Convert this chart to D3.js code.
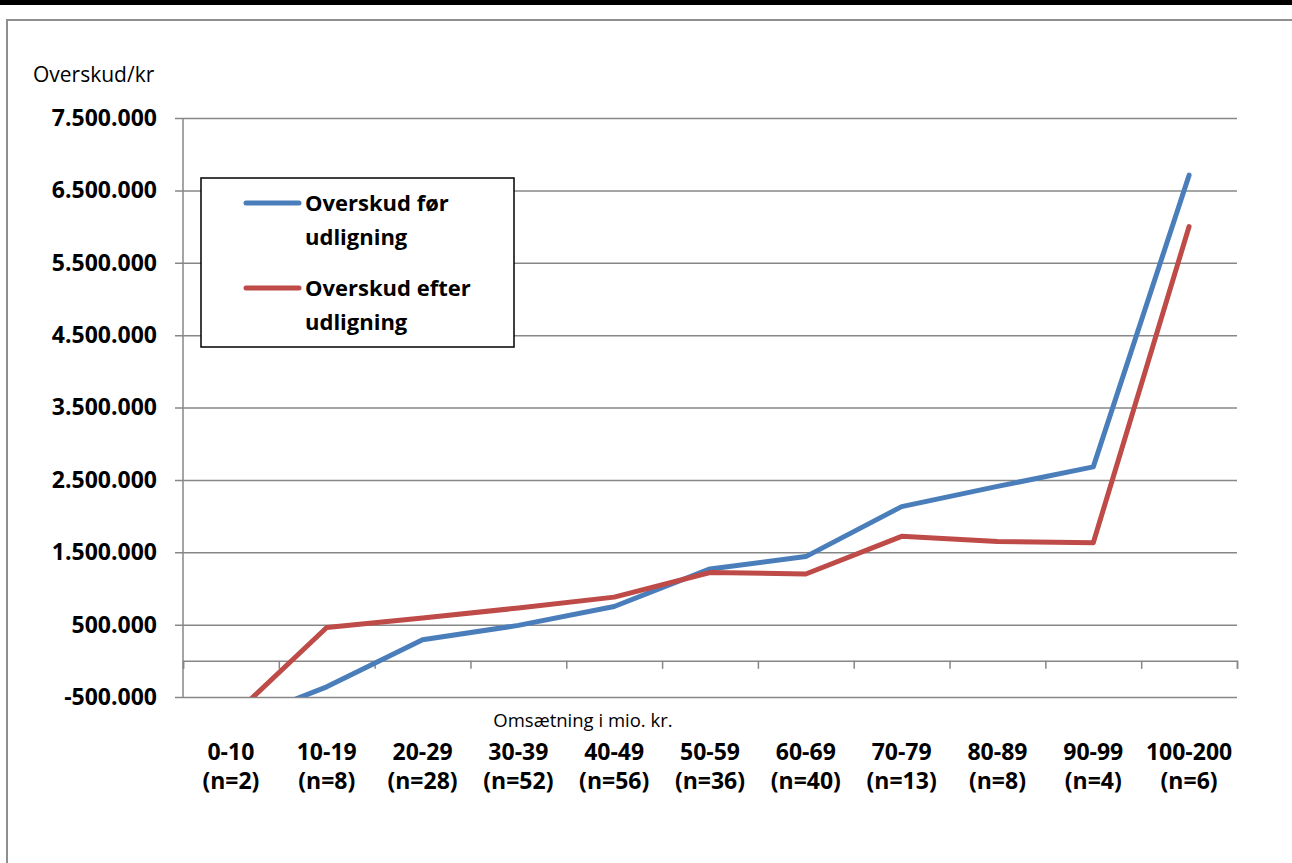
<!DOCTYPE html>
<html>
<head>
<meta charset="utf-8">
<script src="https://cdn.jsdelivr.net/npm/d3@7"></script>
<style>
  body { margin: 0; background: #fff; }
  svg { display: block; font-family: "Open Sans", "Liberation Sans", sans-serif; }
</style>
</head>
<body>
<svg id="chart"></svg>
<script>
// data
const categories = ["0-10", "10-19", "20-29", "30-39", "40-49", "50-59", "60-69", "70-79", "80-89", "90-99", "100-200"];
const counts = ["(n=2)", "(n=8)", "(n=28)", "(n=52)", "(n=56)", "(n=36)", "(n=40)", "(n=13)", "(n=8)", "(n=4)", "(n=6)"];
const foerUdligning = [-880000, -360000, 290000, 490000, 750000, 1270000, 1440000, 2130000, 2410000, 2680000, 6710000];
const efterUdligning = [-790000, 460000, 590000, 730000, 880000, 1220000, 1200000, 1720000, 1650000, 1630000, 6000000];
const yTicks = [-500000, 500000, 1500000, 2500000, 3500000, 4500000, 5500000, 6500000, 7500000];

const series = [
    { name: ["Overskud før", "udligning"], values: foerUdligning, color: "#4A7EBB" },
    { name: ["Overskud efter", "udligning"], values: efterUdligning, color: "#BE4B48" }
];

const width = 1292, height = 863;
const plot = { left: 183, right: 1237, top: 118, bottom: 697 };
const gridColor = "#878787";

const svg = d3.select("#chart").attr("width", width).attr("height", height);

// page decoration: black strip on top, grey frame round the chart
svg.append("rect").attr("x", 0).attr("y", 0).attr("width", width).attr("height", 5).attr("fill", "#000");
svg.append("rect")
    .attr("x", 7).attr("y", 20).attr("width", width + 20).attr("height", height)
    .attr("fill", "none").attr("stroke", "#8f8f8f").attr("stroke-width", 2);

const x = d3.scaleBand().domain(categories).range([plot.left, plot.right]);
const y = d3.scaleLinear().domain([-500000, 7500000]).range([plot.bottom, plot.top]);

const locale = d3.formatLocale({ decimal: ",", thousands: ".", grouping: [3], currency: ["", " kr"], minus: "-" });
const fmt = locale.format(",d");

// y axis: gridlines + labels
const yAxis = svg.append("g")
    .attr("transform", `translate(${plot.right},0)`)
    .call(d3.axisLeft(y).tickValues(yTicks).tickSize(plot.right - plot.left + 8).tickPadding(18).tickFormat(fmt));
yAxis.select(".domain").remove();
yAxis.selectAll(".tick line").attr("stroke", gridColor).attr("stroke-width", 1.5);
yAxis.selectAll(".tick text")
    .attr("fill", "#000").attr("font-size", 23).attr("font-weight", "bold")
    .attr("font-family", "'Open Sans', sans-serif");

// left axis line
svg.append("line")
    .attr("x1", plot.left).attr("x2", plot.left)
    .attr("y1", plot.top).attr("y2", plot.bottom)
    .attr("stroke", gridColor).attr("stroke-width", 1.5);

// x axis at zero with ticks between categories
const xEdges = d3.scaleLinear().domain([0, categories.length]).range([plot.left, plot.right]);
const xAxis = svg.append("g")
    .attr("transform", `translate(0,${y(0)})`)
    .call(d3.axisBottom(xEdges).tickValues(d3.range(categories.length + 1)).tickSize(8).tickFormat(""));
xAxis.selectAll("path, line").attr("stroke", gridColor).attr("stroke-width", 1.5);

// category labels (two lines)
const catLabels = svg.append("g").selectAll("text")
    .data(categories)
    .join("text")
    .attr("text-anchor", "middle")
    .attr("font-size", 23).attr("font-weight", "bold")
    .attr("x", d => x(d) + x.bandwidth() / 2);
catLabels.append("tspan").attr("y", 760).text(d => d);
catLabels.append("tspan")
    .attr("x", d => x(d) + x.bandwidth() / 2)
    .attr("y", 789)
    .text((d, i) => counts[i]);

// axis titles
svg.append("text").attr("x", 33).attr("y", 82).attr("font-size", 21).text("Overskud/kr");
svg.append("text").attr("x", 583).attr("y", 727).attr("text-anchor", "middle").attr("font-size", 18.5).text("Omsætning i mio. kr.");

// lines, clipped to plot area
svg.append("clipPath").attr("id", "plotClip")
    .append("rect")
    .attr("x", plot.left).attr("y", plot.top - 10)
    .attr("width", plot.right - plot.left).attr("height", plot.bottom - plot.top + 10);

const line = d3.line()
    .x((d, i) => x(categories[i]) + x.bandwidth() / 2)
    .y(d => y(d));

svg.append("g").attr("clip-path", "url(#plotClip)")
    .selectAll("path")
    .data(series)
    .join("path")
    .attr("d", d => line(d.values))
    .attr("fill", "none")
    .attr("stroke", d => d.color)
    .attr("stroke-width", 5)
    .attr("stroke-linecap", "round")
    .attr("stroke-linejoin", "round");

// legend
const legend = svg.append("g");
legend.append("rect")
    .attr("x", 201).attr("y", 178).attr("width", 313).attr("height", 169)
    .attr("fill", "#fff").attr("stroke", "#000").attr("stroke-width", 1.5);

const items = legend.selectAll("g.item")
    .data(series)
    .join("g")
    .attr("class", "item")
    .attr("transform", (d, i) => `translate(0,${203 + i * 85})`);
items.append("line")
    .attr("x1", 246).attr("x2", 299)
    .attr("stroke", d => d.color).attr("stroke-width", 5).attr("stroke-linecap", "round");
items.append("text")
    .attr("x", 305).attr("y", 8)
    .attr("font-size", 22).attr("font-weight", "bold")
    .text(d => d.name[0]);
items.append("text")
    .attr("x", 305).attr("y", 42)
    .attr("font-size", 22).attr("font-weight", "bold")
    .text(d => d.name[1]);
</script>
</body>
</html>
